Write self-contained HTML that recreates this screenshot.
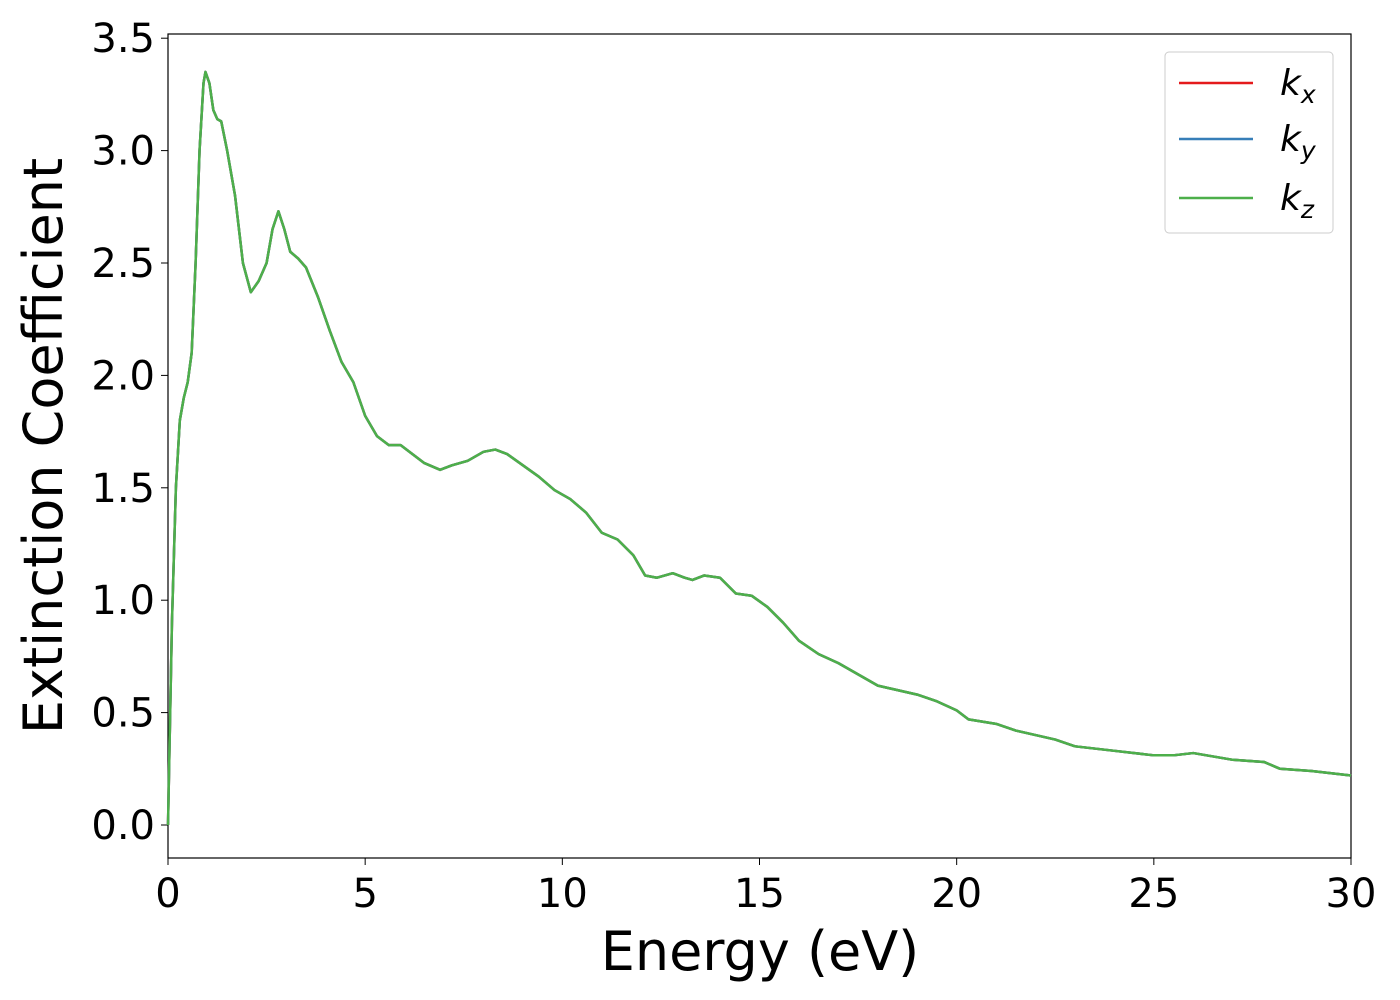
<!DOCTYPE html>
<html><head><meta charset="utf-8"><style>
html,body{margin:0;padding:0;background:#fff;}
svg{display:block;font-family:"DejaVu Sans","Liberation Sans",sans-serif;}
</style></head><body>
<svg id="chart" width="1400" height="1000">
<rect x="168" y="34" width="1183" height="824" fill="#fff" stroke="#000" stroke-width="1.2"/>
<g id="xt"></g>
<g id="yt"></g>
<g id="series"></g>
<text x="760" y="970" text-anchor="middle" font-size="54">Energy (eV)</text>
<text transform="translate(62,446) rotate(-90)" text-anchor="middle" font-size="54">Extinction Coefficient</text>
<g>
<rect x="1165" y="52" width="168" height="181" rx="4" fill="#fff" stroke="#ccc"/>
<g><line x1="1179" y1="83" x2="1253" y2="83" stroke="#e41a1c" stroke-width="2.5"/><text x="1280" y="95" font-size="36" font-style="italic">k<tspan font-size="25" dy="8">x</tspan></text></g>
<g><line x1="1179" y1="139" x2="1253" y2="139" stroke="#377eb8" stroke-width="2.5"/><text x="1280" y="151" font-size="36" font-style="italic">k<tspan font-size="25" dy="8">y</tspan></text></g>
<g><line x1="1179" y1="198" x2="1253" y2="198" stroke="#4daf4a" stroke-width="2.5"/><text x="1280" y="210" font-size="36" font-style="italic">k<tspan font-size="25" dy="8">z</tspan></text></g>
</g>
</svg>
<script>
const energy=[0,0.1,0.2,0.3,0.4,0.5,0.6,0.7,0.8,0.9,0.95,1.05,1.15,1.25,1.35,1.5,1.7,1.9,2.1,2.3,2.5,2.65,2.8,2.95,3.1,3.3,3.5,3.8,4.1,4.4,4.7,5.0,5.3,5.6,5.9,6.2,6.5,6.9,7.2,7.6,8.0,8.3,8.6,9.0,9.4,9.8,10.2,10.6,11.0,11.4,11.8,12.1,12.4,12.8,13.1,13.3,13.6,14.0,14.4,14.8,15.2,15.6,16.0,16.5,17.0,17.5,18.0,18.5,19.0,19.5,20.0,20.3,21.0,21.5,22.0,22.5,23.0,24.0,25.0,25.5,26.0,27.0,27.8,28.2,29.0,29.5,30];
const kz=[0,0.9,1.5,1.8,1.9,1.97,2.1,2.5,3.0,3.3,3.35,3.3,3.18,3.14,3.13,3.0,2.8,2.5,2.37,2.42,2.5,2.65,2.73,2.65,2.55,2.52,2.48,2.35,2.2,2.06,1.97,1.82,1.73,1.69,1.69,1.65,1.61,1.58,1.6,1.62,1.66,1.67,1.65,1.6,1.55,1.49,1.45,1.39,1.3,1.27,1.2,1.11,1.1,1.12,1.1,1.09,1.11,1.1,1.03,1.02,0.97,0.9,0.82,0.76,0.72,0.67,0.62,0.6,0.58,0.55,0.51,0.47,0.45,0.42,0.4,0.38,0.35,0.33,0.31,0.31,0.32,0.29,0.28,0.25,0.24,0.23,0.22];
const kx=kz.slice();
const ky=kz.slice();
const xTicks=[0,5,10,15,20,25,30];
const yTicks=[0.0,0.5,1.0,1.5,2.0,2.5,3.0,3.5];
const NS="http://www.w3.org/2000/svg";
function sx(v){return 168+v*(1183/30);}
function sy(v){return 825-v*224.8;}
const xt=document.getElementById('xt'),yt=document.getElementById('yt'),sg=document.getElementById('series');
xTicks.forEach(t=>{
  const l=document.createElementNS(NS,'line');
  
  
  l.setAttribute('x1',sx(t));l.setAttribute('x2',sx(t));l.setAttribute('y1',858);l.setAttribute('y2',865);l.setAttribute('stroke','#000');
  xt.appendChild(l);
  const tx=document.createElementNS(NS,'text');
  
  
  tx.setAttribute('x',sx(t));tx.setAttribute('y',907);tx.setAttribute('text-anchor','middle');tx.setAttribute('font-size','40');
  tx.textContent=t;xt.appendChild(tx);
});
yTicks.forEach(t=>{
  const l=document.createElementNS(NS,'line');
  
  
  l.setAttribute('x1',161);l.setAttribute('x2',168);l.setAttribute('y1',sy(t));l.setAttribute('y2',sy(t));l.setAttribute('stroke','#000');
  yt.appendChild(l);
  const tx=document.createElementNS(NS,'text');
  
  
  tx.setAttribute('x',155);tx.setAttribute('y',sy(t)+14);tx.setAttribute('text-anchor','end');tx.setAttribute('font-size','40');
  tx.textContent=t.toFixed(1);yt.appendChild(tx);
});
[[kx,'#e41a1c','series-kx'],[ky,'#377eb8','series-ky'],[kz,'#4daf4a','series-kz']].forEach(s=>{
  const p=document.createElementNS(NS,'polyline');
  
  
  p.setAttribute('points',energy.map((e,i)=>sx(e)+','+sy(s[0][i])).join(' '));
  p.setAttribute('fill','none');p.setAttribute('stroke',s[1]);p.setAttribute('stroke-width','2.5');p.setAttribute('stroke-linejoin','round');
  sg.appendChild(p);
});
</script>
</body></html>
